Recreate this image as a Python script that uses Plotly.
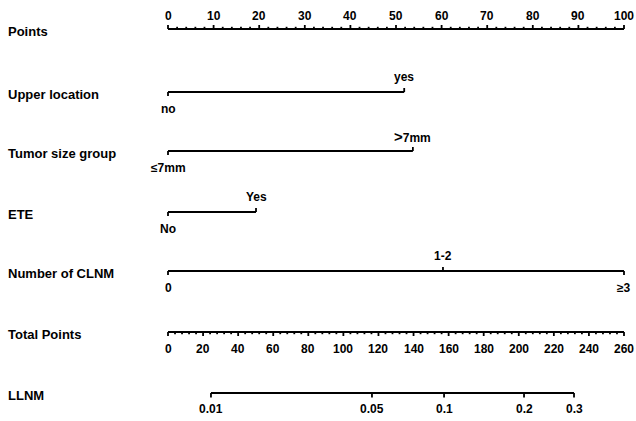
import plotly.graph_objects as go

# ---- nomogram content ----------------------------------------------------
row_names = ["Points", "Upper location", "Tumor size group", "ETE",
             "Number of CLNM", "Total Points", "LLNM"]

points_labels = list(range(0, 101, 10))          # labelled ticks of Points axis
points_minor_step = 2

upper_location_levels = ["no", "yes"]
upper_location_points = [0, 51.8]

tumor_size_levels = ["\u22647mm", "<span style='font-size:15px'>&gt;</span>7mm"]
tumor_size_points = [0, 53.7]

ete_levels = ["No", "Yes"]
ete_points = [0, 19.3]

clnm_levels = ["0", "1-2", "\u22653"]
clnm_points = [0, 60.3, 100]

total_points_labels = list(range(0, 261, 20))
total_points_minor_step = 4
total_points_max = 260

llnm_probs = ["0.01", "0.05", "0.1", "0.2", "0.3"]
llnm_total_points = [24.5, 116.3, 157.4, 203.0, 231.5]

# ---- layout geometry (pixels) --------------------------------------------
W, H = 636, 421
X0, X1 = 168, 624                      # pixel span of 0..100 points
PX_PER_PT = (X1 - X0) / 100.0
FONT = "Liberation Sans, Arial, sans-serif"
LW = 1.8

row_y = {"Points": 29, "Upper location": 92, "Tumor size group": 151,
         "ETE": 212, "Number of CLNM": 271, "Total Points": 332, "LLNM": 393}

fig = go.Figure()
annotations = []


def tot2pts(v):
    return v * 100.0 / total_points_max


def add_path(xs, ys):
    fig.add_trace(go.Scatter(x=xs, y=ys, mode="lines",
                             line=dict(color="black", width=LW),
                             hoverinfo="skip", showlegend=False))


def add_text(x, y, txt, size=12, xanchor="center"):
    annotations.append(dict(x=x, y=y, xref="x", yref="y", text=txt,
                            showarrow=False, xanchor=xanchor, yanchor="middle",
                            font=dict(family=FONT, size=size, color="black",
                                      weight="bold")))


# row titles
for name in row_names:
    annotations.append(dict(x=6 / W, y=row_y[name] + 2, xref="paper", yref="y",
                            text=name, showarrow=False, xanchor="left",
                            yanchor="middle",
                            font=dict(family=FONT, size=13, color="black",
                                      weight="bold")))

# Points axis (ticks up, labels above)
y = row_y["Points"]
add_path([0, 100], [y, y])
xs, ys = [], []
for v in range(0, 101, points_minor_step):
    ln = 4 if v in points_labels else 2.2
    xs += [v, v, None]
    ys += [y, y - ln, None]
add_path(xs, ys)
for v in points_labels:
    add_text(v, y - 13, str(v))


# categorical predictors
def categorical(name, levels, pts, sides):
    yy = row_y[name]
    add_path([min(pts), max(pts)], [yy, yy])
    xs, ys = [], []
    for lev, p, s in zip(levels, pts, sides):
        d = -4 if s == "above" else 4
        xs += [p, p, None]
        ys += [yy, yy + d, None]
        add_text(p, yy - 15 if s == "above" else yy + 17, lev)
    add_path(xs, ys)


categorical("Upper location", upper_location_levels, upper_location_points,
            ["below", "above"])
categorical("Tumor size group", tumor_size_levels, tumor_size_points,
            ["below", "above"])
categorical("ETE", ete_levels, ete_points, ["below", "above"])
categorical("Number of CLNM", clnm_levels, clnm_points,
            ["below", "above", "below"])

# Total Points axis (ticks down, labels below)
y = row_y["Total Points"]
add_path([0, tot2pts(total_points_max)], [y, y])
xs, ys = [], []
for v in range(0, total_points_max + 1, total_points_minor_step):
    ln = 4 if v in total_points_labels else 2.2
    xs += [tot2pts(v), tot2pts(v), None]
    ys += [y, y + ln, None]
add_path(xs, ys)
for v in total_points_labels:
    add_text(tot2pts(v), y + 17, str(v))

# LLNM probability axis
y = row_y["LLNM"]
llnm_x = [tot2pts(v) for v in llnm_total_points]
add_path([llnm_x[0], llnm_x[-1]], [y, y])
xs, ys = [], []
for px in llnm_x:
    xs += [px, px, None]
    ys += [y, y + 4.5, None]
add_path(xs, ys)
for px, lab in zip(llnm_x, llnm_probs):
    add_text(px, y + 16, lab)

fig.update_layout(
    width=W, height=H,
    margin=dict(l=0, r=0, t=0, b=0),
    paper_bgcolor="white", plot_bgcolor="white",
    showlegend=False,
    annotations=annotations,
    xaxis=dict(range=[-X0 / PX_PER_PT, (W - X0) / PX_PER_PT], visible=False,
               fixedrange=True),
    yaxis=dict(range=[H, 0], visible=False, fixedrange=True),
)

fig.write_html("out.html")
